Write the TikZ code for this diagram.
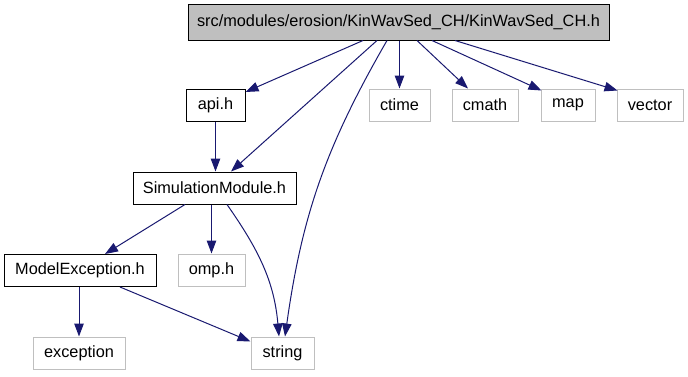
\documentclass[tikz,border=0pt]{standalone}
\usepackage{fontspec}
\setmainfont{Liberation Sans}
\usetikzlibrary{arrows.meta,positioning}

\definecolor{incedge}{HTML}{191970}
\definecolor{sysgray}{HTML}{BFBFBF}

\tikzset{
  hdr/.style={draw=black,line width=1pt,minimum height=32pt,inner sep=0pt,
              font=\fontsize{16.3}{19.5}\selectfont},
  cur/.style={hdr,fill=sysgray,minimum height=35pt},
  sys/.style={hdr,draw=sysgray},
  dep/.style={draw=incedge,line width=1pt,-{Triangle[length=13pt,width=9.5pt]}},
}

\begin{document}
\begin{tikzpicture}[x=1pt,y=1pt]
  \useasboundingbox (0,0) rectangle (688,376) ;
%
  \node [cur,minimum width=421pt] (kws)  at (398.5,353.5) {src/modules/erosion/KinWavSed\_CH/KinWavSed\_CH.h} ;
  \node [hdr,minimum width=59pt]  (api)  at (215.5,270.5) {api.h} ;
  \node [hdr,minimum width=163pt] (sim)  at (214.5,188)   {SimulationModule.h} ;
  \node [hdr,minimum width=152pt] (mex)  at (80,105.5)    {ModelException.h} ;
%
  \node [sys,minimum width=61pt]  (ctime)  at (399.5,271) {ctime} ;
  \node [sys,minimum width=66pt]  (cmath)  at (485,271)   {cmath} ;
  \node [sys,minimum width=54pt]  (map)    at (568,271)   {map} ;
  \node [sys,minimum width=66pt]  (vector) at (650,271)   {vector} ;
  \node [sys,minimum width=67pt]  (omp)    at (211.5,106) {omp.h} ;
  \node [sys,minimum width=92pt]  (exc)    at (79,23)     {exception} ;
  \node [sys,minimum width=63pt]  (str)    at (282.5,23)  {string} ;
%
  \draw [dep] ([xshift=-35.5pt]kws.south) -- ([yshift=-3pt]api.north east) ;
  \draw [dep] ([xshift=-21.5pt]kws.south) -- ([xshift=16.5pt]sim.north) ;
  \draw [dep] ([xshift=-11.5pt]kws.south) to[out=240,in=82] ([xshift=2.5pt]str.north) ;
  \draw [dep] (ctime.north |- kws.south) -- (ctime.north) ;
  \draw [dep] ([xshift=18.5pt]kws.south) -- ([xshift=-17pt]cmath.north) ;
  \draw [dep] ([xshift=33.5pt]kws.south) -- ([xshift=1pt,yshift=-2pt]map.north west) ;
  \draw [dep] ([xshift=56.5pt]kws.south) -- ([xshift=1pt,yshift=-2pt]vector.north west) ;
%
  \draw [dep] (api.south) -- (api.south |- sim.north) ;
%
  \draw [dep] ([xshift=-29.5pt]sim.south) -- ([xshift=25pt]mex.north) ;
  \draw [dep] (omp.north |- sim.south) -- (omp.north) ;
  \draw [dep] ([xshift=12.5pt]sim.south) to[out=-55,in=95] ([xshift=-3.5pt]str.north) ;
%
  \draw [dep] (exc.north |- mex.south) -- (exc.north) ;
  \draw [dep] ([xshift=40pt]mex.south) -- ([yshift=-5pt]str.north west) ;
\end{tikzpicture}
\end{document}
